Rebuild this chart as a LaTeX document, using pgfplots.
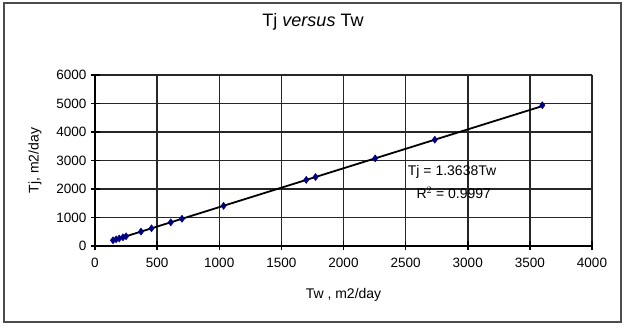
\documentclass[border=0pt]{standalone}
\usepackage{fontspec}
\setmainfont{Liberation Sans}
\usepackage{pgfplots}
\pgfplotsset{compat=1.18}
\definecolor{navy}{RGB}{0,0,128}
\begin{document}
\begin{tikzpicture}
\path[use as bounding box] (0pt,0pt) rectangle (627pt,327pt);
\draw[black!70, line width=1.4pt] (4pt,5pt) rectangle (621pt,324pt);
\node[font=\fontsize{18}{20}\selectfont] at (313pt,305pt) {Tj \textit{versus} Tw};
% plot-area grid and cross ticks (decoration)
\foreach \k in {1,...,8} {
  \draw[black!85, line width=1.5pt] ({95pt+62.125pt*\k},81pt) -- ({95pt+62.125pt*\k},252pt);
}
\foreach \k in {1,...,6} {
  \draw[black!85, line width=1.5pt] (95pt,{81pt+28.5pt*\k}) -- (592pt,{81pt+28.5pt*\k});
}
\foreach \k in {0,...,8} {
  \draw[black, line width=1.5pt] ({95pt+62.125pt*\k},76.5pt) -- ({95pt+62.125pt*\k},85.5pt);
}
\foreach \k in {0,...,6} {
  \draw[black, line width=1.5pt] (90.5pt,{81pt+28.5pt*\k}) -- (99.5pt,{81pt+28.5pt*\k});
}
\begin{axis}[at={(95pt,81pt)}, anchor=south west, scale only axis,
  width=497pt, height=171pt,
  xmin=0, xmax=4000, ymin=0, ymax=6000,
  xtick={0,500,...,4000}, ytick={0,1000,...,6000},
  axis x line*=bottom, axis y line*=left,
  axis line style={black, line width=1.5pt, -},
  major tick length=0pt,
  /pgf/number format/assume math mode=true,
  /pgf/number format/1000 sep={},
  tick label style={font=\fontsize{13.5}{15}\selectfont},
  xticklabel style={yshift=-9pt},
  yticklabel style={xshift=-5pt},
  label style={font=\fontsize{14}{16}\selectfont},
  xlabel={Tw , m2/day},
  ylabel={Tj, m2/day},
  xlabel style={yshift=-13pt},
  ylabel style={yshift=8pt},
]
\addplot[black, line width=1.8pt, no marks] coordinates {(145,197.8) (3600,4909.7)};
\addplot[only marks, mark=diamond*, mark size=3.6pt, mark options={fill=navy, draw=navy}] coordinates {
(145,200) (170,235) (195,265) (225,305) (250,340)
(370,505) (455,620) (610,830) (700,955) (1035,1410)
(1700,2320) (1775,2420) (2255,3075) (2735,3730) (3600,4940)
};
\node[anchor=west, font=\fontsize{14}{16}\selectfont] at (axis cs:2490,2600) {Tj = 1.3638Tw};
\node[anchor=west, font=\fontsize{14}{16}\selectfont] at (axis cs:2560,1870) {R$^2$ = 0.9997};
\end{axis}
\end{tikzpicture}
\end{document}
